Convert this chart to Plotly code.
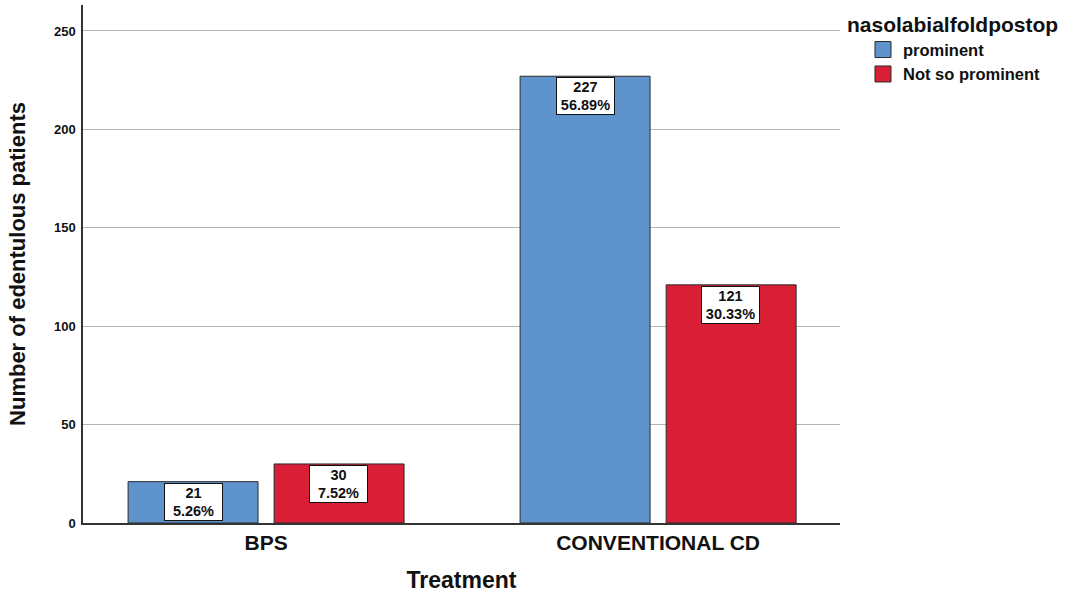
import plotly.graph_objects as go

categories = ["BPS", "CONVENTIONAL CD"]
series_names = ["prominent", "Not so prominent"]
prominent_counts = [21, 227]
not_so_counts = [30, 121]
prominent_pct = ["5.26%", "56.89%"]
not_so_pct = ["7.52%", "30.33%"]
y_ticks = [0, 50, 100, 150, 200, 250]

colors = ["#5E93CB", "#D81F36"]
font_family = "Liberation Sans, Arial, sans-serif"

fig = go.Figure()
for name, vals, col in [(series_names[0], prominent_counts, colors[0]),
                        (series_names[1], not_so_counts, colors[1])]:
    fig.add_trace(go.Bar(
        x=categories, y=vals, name=name, showlegend=False, legendgroup=name,
        marker=dict(color=col, line=dict(color="#2b2b2b", width=1)),
    ))
# legend proxies (square swatches)
for name, col in zip(series_names, colors):
    fig.add_trace(go.Scatter(
        x=[None], y=[None], mode="markers", name=name, legendgroup=name,
        marker=dict(symbol="square", size=16, color=col,
                    line=dict(color="#2b2b2b", width=1)),
    ))

annotations = []
for vals, pcts, shift in [(prominent_counts, prominent_pct, -72.5),
                          (not_so_counts, not_so_pct, 72.5)]:
    for c, v, p in zip(categories, vals, pcts):
        annotations.append(dict(
            x=c, y=v, xref="x", yref="y", xshift=shift, yshift=-1,
            text=f"<b>{v}<br>{p}</b>", showarrow=False,
            yanchor="top", xanchor="center",
            font=dict(family=font_family, size=14.5, color="#111"),
            bgcolor="white", bordercolor="#111", borderwidth=1, borderpad=1,
            width=55, height=34, valign="middle",
            align="center",
        ))

fig.update_layout(
    width=1087, height=596,
    margin=dict(l=83, r=247, t=5, b=73, autoexpand=False),
    paper_bgcolor="white", plot_bgcolor="white",
    barmode="group", bargap=0.255, bargroupgap=0.11,
    font=dict(family=font_family, color="#111"),
    annotations=annotations,
    legend=dict(
        x=1.0066, xanchor="left", y=1.0, yanchor="top",
        title=dict(text="nasolabialfoldpostop",
                   font=dict(size=21, weight="bold", color="#111")),
        font=dict(size=16.5, weight="bold", color="#111"),
        tracegroupgap=0, itemwidth=30, indentation=18,
    ),
    xaxis=dict(
        range=[-0.467, 1.464],
        showline=True, linecolor="#333", linewidth=1.5,
        ticks="", tickfont=dict(size=21, weight="bold"),
        title=dict(text="Treatment", font=dict(size=23, weight="bold"), standoff=19),
        automargin=False,
    ),
    yaxis=dict(
        range=[0, 263.2], tickvals=y_ticks,
        showline=True, linecolor="#333", linewidth=1.5,
        showgrid=True, gridcolor="#b4b4b4", gridwidth=1,
        zeroline=False, ticks="", ticklabelstandoff=3,
        tickfont=dict(size=13, weight="bold"),
        title=dict(text="Number of edentulous patients",
                   font=dict(size=22, weight="bold"), standoff=22),
        automargin=False,
    ),
)

fig.write_html("out.html", post_script="document.body.style.margin='0';",
               config={"displayModeBar": False})
